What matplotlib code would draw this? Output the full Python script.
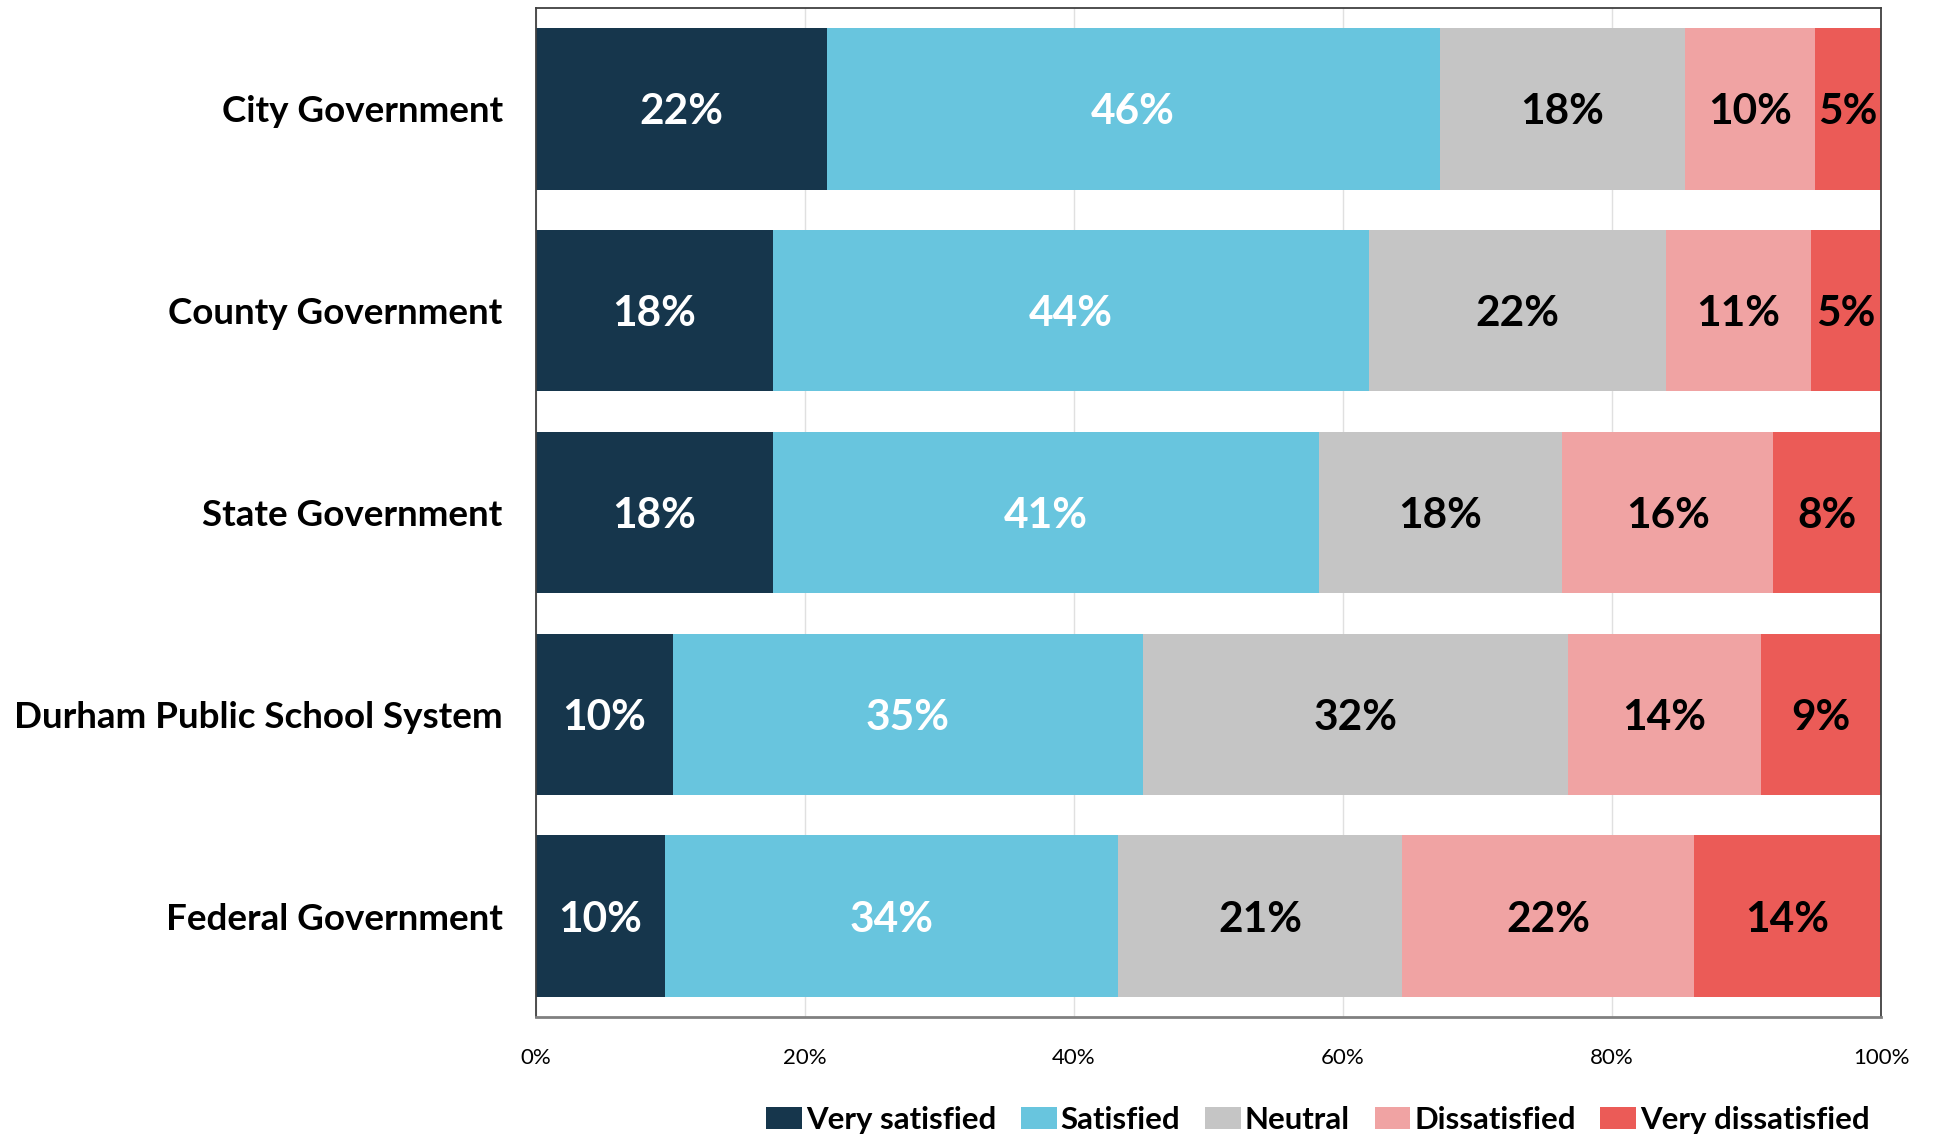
import matplotlib
matplotlib.use("Agg")
import matplotlib.pyplot as plt
import numpy as np

categories = ["City Government", "County Government", "State Government",
              "Durham Public School System", "Federal Government"]
series_names = ["Very satisfied", "Satisfied", "Neutral", "Dissatisfied", "Very dissatisfied"]
very_satisfied = [21.6, 17.6, 17.6, 10.2, 9.6]
satisfied = [45.6, 44.3, 40.6, 34.9, 33.7]
neutral = [18.2, 22.1, 18.1, 31.6, 21.1]
dissatisfied = [9.7, 10.8, 15.7, 14.4, 21.7]
very_dissatisfied = [4.9, 5.2, 8.0, 8.9, 13.9]
xtick_values = [0, 20, 40, 60, 80, 100]
xtick_labels = ["0%", "20%", "40%", "60%", "80%", "100%"]

colors = ["#16364C", "#68C5DE", "#C5C5C5", "#F0A3A3", "#EB5B57"]
label_colors = ["white", "white", "black", "black", "black"]

plt.rcParams['font.family'] = ['Lato', 'DejaVu Sans']

fig = plt.figure(figsize=(19.34, 11.37), dpi=100)
ax = fig.add_axes([536/1934, 1-1017/1137, (1881-536)/1934, (1017-8)/1137])

data = [very_satisfied, satisfied, neutral, dissatisfied, very_dissatisfied]
y = np.arange(len(categories))
left = np.zeros(len(categories))
for vals, name, c, lc in zip(data, series_names, colors, label_colors):
    vals = np.array(vals)
    ax.barh(y, vals, left=left, height=0.8, color=c, label=name, zorder=2)
    for yi, l, v in zip(y, left, vals):
        ax.text(l + v/2, yi, f"{int(round(v))}%", ha="center", va="center_baseline",
                color=lc, fontsize=30.5, fontweight="bold", zorder=3)
    left += vals

ax.set_xlim(0, 100)
ax.set_ylim(4.5, -0.5)
ax.set_yticks(y)
ax.set_yticklabels(categories, fontsize=26.5, fontweight="bold", va="center_baseline")
ax.set_xticks(xtick_values)
ax.set_xticklabels(xtick_labels, fontsize=16)
ax.tick_params(axis="y", length=0, pad=24)
ax.tick_params(axis="x", length=0, pad=22)
ax.grid(axis="x", color="#E0E0E0", linewidth=1, zorder=0)
for s in ax.spines.values():
    s.set_color("#404040")
    s.set_linewidth(1.3)
ax.spines["bottom"].set_color("#808080")
ax.spines["bottom"].set_linewidth(2)

fig.legend(loc="center", bbox_to_anchor=(1318/1934, 1-1120/1137), ncol=5,
           frameon=False, prop={"weight": "bold", "size": 22.4},
           handlelength=1.15, handleheight=0.72, handletextpad=0.12,
           columnspacing=0.8, borderpad=0, borderaxespad=0)

fig.savefig("out.png", dpi=100)
